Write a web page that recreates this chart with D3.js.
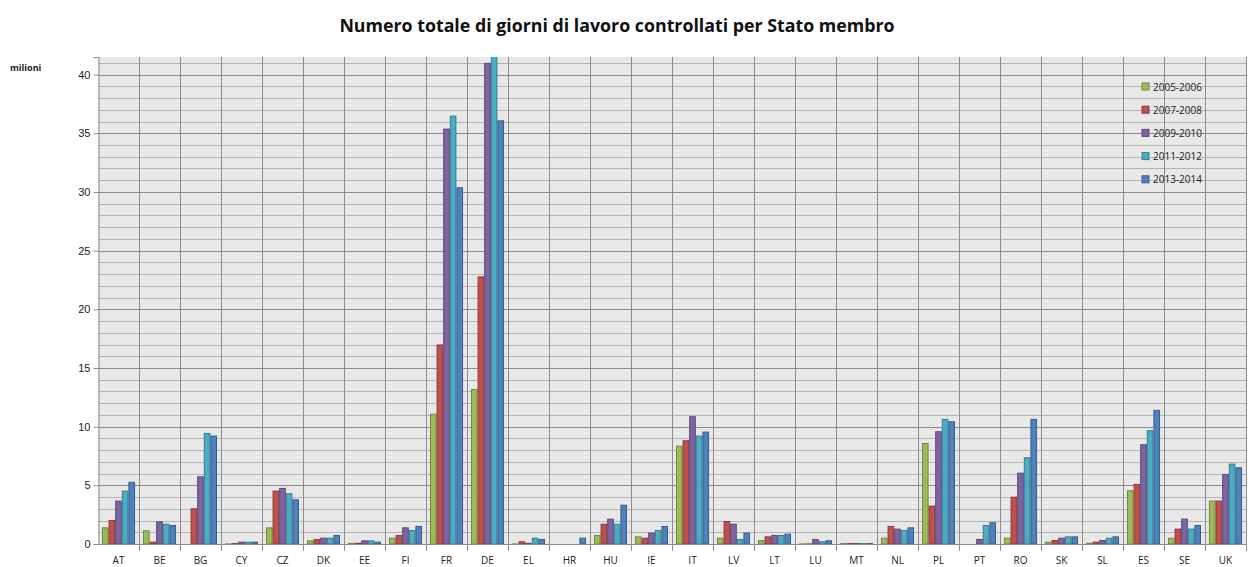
<!DOCTYPE html>
<html>
<head>
<meta charset="utf-8">
<script src="https://cdn.jsdelivr.net/npm/d3@7"></script>
<style>
  body { margin: 0; background: #fff; }
  svg { display: block; font-family: "Open Sans", "DejaVu Sans", sans-serif; }
</style>
</head>
<body>
<svg id="chart" width="1248" height="567"></svg>
<script>
// Stati membri
const countries = ['AT', 'BE', 'BG', 'CY', 'CZ', 'DK', 'EE', 'FI', 'FR', 'DE', 'EL', 'HR', 'HU', 'IE',
    'IT', 'LV', 'LT', 'LU', 'MT', 'NL', 'PL', 'PT', 'RO', 'SK', 'SL', 'ES', 'SE', 'UK'];

const periods = ['2005-2006', '2007-2008', '2009-2010', '2011-2012', '2013-2014'];

// milioni di giorni
const v2005 = [1.42, 1.17, 0, 0.05, 1.42, 0.31, 0.1, 0.54, 11.1, 13.2, 0.05, 0, 0.77, 0.65,
    8.38, 0.54, 0.34, 0.05, 0.08, 0.54, 8.61, 0, 0.54, 0.2, 0.1, 4.58, 0.54, 3.7];
const v2007 = [2.05, 0.2, 3.04, 0.08, 4.55, 0.43, 0.1, 0.77, 17.0, 22.8, 0.23, 0, 1.73, 0.54,
    8.84, 1.96, 0.65, 0.05, 0.08, 1.54, 3.27, 0, 4.03, 0.34, 0.2, 5.12, 1.31, 3.7];
const v2009 = [3.7, 1.93, 5.77, 0.2, 4.78, 0.54, 0.31, 1.42, 35.4, 41.0, 0.1, 0, 2.16, 0.97,
    10.89, 1.73, 0.77, 0.43, 0.08, 1.31, 9.61, 0.43, 6.08, 0.54, 0.34, 8.5, 2.16, 5.97];
const v2011 = [4.55, 1.73, 9.47, 0.2, 4.32, 0.54, 0.31, 1.19, 36.5, 42.5, 0.54, 0, 1.73, 1.19,
    9.24, 0.43, 0.77, 0.23, 0.08, 1.19, 10.66, 1.62, 7.39, 0.65, 0.54, 9.7, 1.31, 6.85];
const v2013 = [5.3, 1.62, 9.24, 0.2, 3.81, 0.77, 0.2, 1.54, 30.4, 36.1, 0.43, 0.54, 3.35, 1.54,
    9.58, 0.97, 0.88, 0.31, 0.08, 1.42, 10.46, 1.85, 10.66, 0.65, 0.65, 11.43, 1.62, 6.54];

const series = [v2005, v2007, v2009, v2011, v2013];
const fills = ['#9bbb59', '#c0504d', '#8064a2', '#4bacc6', '#4f81bd'];
const strokes = ['#71893f', '#8c3836', '#5c4776', '#357d91', '#385d8a'];
const yTicks = [0, 5, 10, 15, 20, 25, 30, 35, 40];

const svg = d3.select('#chart');
const pLeft = 98, pRight = 1246, pTop = 57, pBottom = 544;

const x = d3.scaleBand().domain(countries).range([pLeft, pRight]).paddingInner(0).paddingOuter(0);
const xs = d3.scaleBand().domain(periods).range([0, x.bandwidth()]).paddingInner(0).paddingOuter(0.6);
const y = d3.scaleLinear().domain([0, 41.5]).range([pBottom, pTop]);

// sfondo area del grafico
svg.append('rect')
    .attr('x', pLeft).attr('y', pTop)
    .attr('width', pRight - pLeft).attr('height', pBottom - pTop)
    .attr('fill', '#e8e8e8');

// griglia orizzontale secondaria e principale
svg.append('g').selectAll('line').data(d3.range(1, 42).filter(d => d % 5 !== 0)).enter().append('line')
    .attr('x1', pLeft).attr('x2', pRight)
    .attr('y1', d => Math.round(y(d)) + 0.5).attr('y2', d => Math.round(y(d)) + 0.5)
    .attr('stroke', '#b4b4b4').attr('stroke-width', 1);
svg.append('g').selectAll('line').data(yTicks.slice(1)).enter().append('line')
    .attr('x1', pLeft).attr('x2', pRight)
    .attr('y1', d => Math.round(y(d)) + 0.5).attr('y2', d => Math.round(y(d)) + 0.5)
    .attr('stroke', '#8c8c8c').attr('stroke-width', 1);

// separatori verticali delle categorie
svg.append('g').selectAll('line').data(countries.slice(1).concat(['end'])).enter().append('line')
    .attr('x1', d => Math.round(d === 'end' ? pRight : x(d)) + 0.5)
    .attr('x2', d => Math.round(d === 'end' ? pRight : x(d)) + 0.5)
    .attr('y1', pTop).attr('y2', pBottom + 7)
    .attr('stroke', '#8c8c8c').attr('stroke-width', 1);

// barre
svg.append('clipPath').attr('id', 'plotclip').append('rect')
    .attr('x', pLeft).attr('y', pTop).attr('width', pRight - pLeft).attr('height', pBottom - pTop);

const bars = svg.append('g').attr('clip-path', 'url(#plotclip)');
series.forEach((vals, i) => {
    const pts = vals.map((v, j) => ({c: countries[j], v: v})).filter(d => d.v > 0);
    bars.append('g').selectAll('rect').data(pts).enter().append('rect')
        .attr('x', d => x(d.c) + xs(periods[i]) + 0.5)
        .attr('y', d => y(d.v) + 0.5)
        .attr('width', xs.bandwidth() - 1)
        .attr('height', d => Math.max(0, y(0) - y(d.v) - 0.5))
        .attr('fill', fills[i])
        .attr('stroke', strokes[i])
        .attr('stroke-width', 1);
});

// asse y
const yAxis = svg.append('g')
    .attr('transform', `translate(${pLeft + 0.5},0)`)
    .call(d3.axisLeft(y).tickValues(yTicks).tickSize(5).tickPadding(3));
yAxis.select('.domain').attr('stroke', '#8c8c8c');
yAxis.selectAll('.tick line').attr('stroke', '#8c8c8c');
yAxis.selectAll('text').attr('font-size', 11).attr('fill', '#222');

// asse x
svg.append('line')
    .attr('x1', pLeft).attr('x2', pRight)
    .attr('y1', pBottom + 0.5).attr('y2', pBottom + 0.5)
    .attr('stroke', '#8c8c8c');
svg.append('g').selectAll('text').data(countries).enter().append('text')
    .attr('x', d => x(d) + x.bandwidth() / 2)
    .attr('y', 564)
    .attr('text-anchor', 'middle')
    .attr('font-size', 10)
    .attr('fill', '#222')
    .text(d => d);

// titolo
svg.append('text')
    .attr('x', 617).attr('y', 32)
    .attr('text-anchor', 'middle')
    .attr('font-size', 17.8).attr('font-weight', 'bold')
    .attr('fill', '#111')
    .text('Numero totale di giorni di lavoro controllati per Stato membro');

svg.append('text')
    .attr('x', 10).attr('y', 71)
    .attr('font-size', 9).attr('font-weight', 'bold')
    .attr('fill', '#222')
    .text('milioni');

// legenda
const legend = svg.append('g').selectAll('g').data(periods).enter().append('g')
    .attr('transform', (d, i) => `translate(1142,${83 + i * 23.2})`);
legend.append('rect')
    .attr('width', 7).attr('height', 7)
    .attr('fill', (d, i) => fills[i]).attr('stroke', (d, i) => strokes[i]);
legend.append('text')
    .attr('x', 11).attr('y', 7.5)
    .attr('font-size', 10)
    .attr('fill', '#222')
    .text(d => d);
</script>
</body>
</html>
